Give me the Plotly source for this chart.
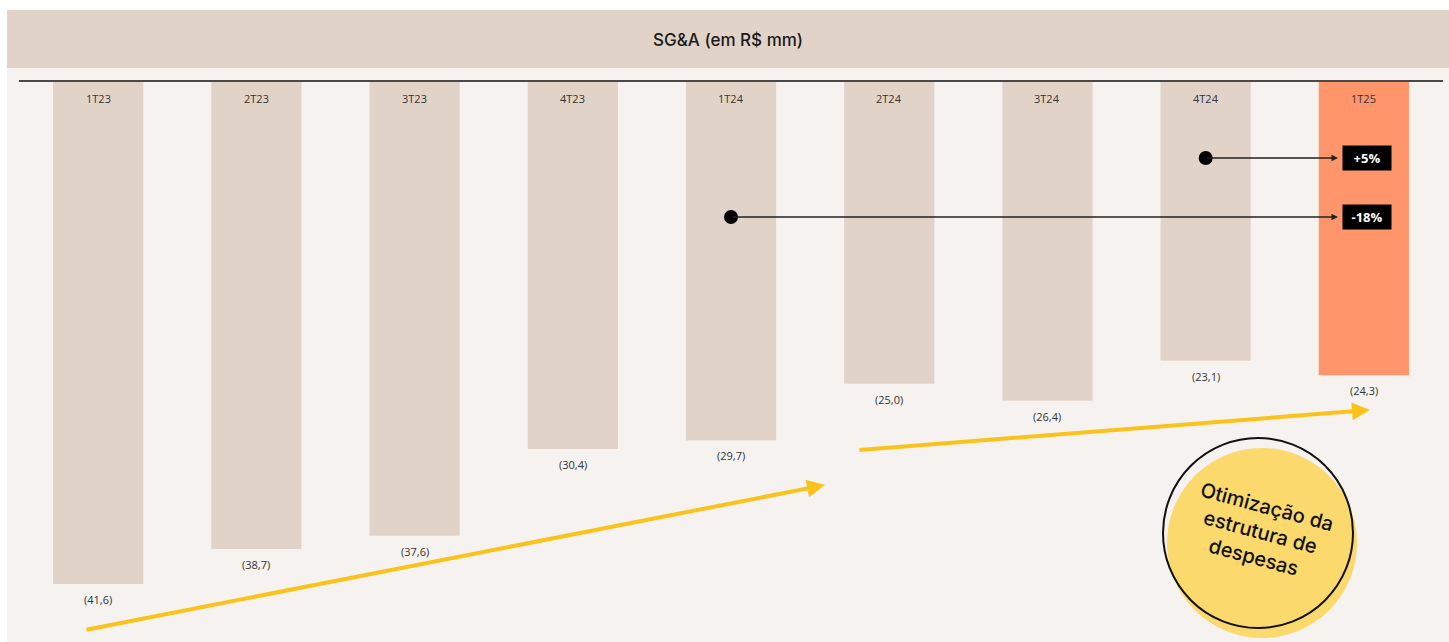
import plotly.graph_objects as go

categories = ["1T23", "2T23", "3T23", "4T23", "1T24", "2T24", "3T24", "4T24", "1T25"]
values = [41.6, 38.7, 37.6, 30.4, 29.7, 25.0, 26.4, 23.1, 24.3]
value_labels = ["(41,6)", "(38,7)", "(37,6)", "(30,4)", "(29,7)", "(25,0)", "(26,4)", "(23,1)", "(24,3)"]
bar_colors = ["#E2D3C9"] * 8 + ["#FF956B"]
title_text = "SG&A (em R$ mm)"
comparisons = [("1T24", "-18%"), ("4T24", "+5%")]
badge_text = "Otimização da<br>estrutura de<br>despesas"

W, H = 1449, 642
L, R, T, B = 19, 6, 82, 0
PW, PH = W - L - R, H - T - B
YMAX = PH / 12.07
FONT = "Open Sans"
FONT2 = "Inter"


def px(x):
    return (x - L) / PW


def py(y):
    return 1 - (y - T) / PH


def ix(x):
    return (x - L) / (PW / len(categories)) - 0.5


def vy(y):
    return (y - T) / (PH / YMAX)


fig = go.Figure()
fig.add_trace(go.Bar(
    x=categories, y=values, marker_color=bar_colors, marker_line_width=0,
    width=0.57, hoverinfo="skip", showlegend=False,
))

# comparison dots
dot_y = {"1T24": vy(217), "4T24": vy(158)}
fig.add_trace(go.Scatter(
    x=[c for c, _ in comparisons], y=[dot_y[c] for c, _ in comparisons],
    mode="markers", marker=dict(color="black", size=14), showlegend=False, hoverinfo="skip",
))

annotations = []
for c, v, lbl in zip(categories, values, value_labels):
    annotations.append(dict(x=c, y=v, text=lbl, showarrow=False, yanchor="top", yshift=-6,
                            font=dict(family=FONT, size=11, color="#333333")))
    annotations.append(dict(x=c, y=0, text=c, showarrow=False, yanchor="top", yshift=-7,
                            font=dict(family=FONT, size=11, color="#333333")))

for c, pct in comparisons:
    yv = dot_y[c]
    annotations.append(dict(x=ix(1338), y=yv, ax=categories.index(c), ay=yv, axref="x", ayref="y",
                            xref="x", yref="y", text="", showarrow=True, arrowhead=2, arrowsize=1,
                            arrowwidth=1.3, arrowcolor="#222222"))
    annotations.append(dict(x=ix(1342), y=yv, xanchor="left", yanchor="middle", text="<b>" + pct + "</b>",
                            showarrow=False, bgcolor="black", borderpad=3, width=42,
                            font=dict(family=FONT, size=13, color="white")))

# yellow trend arrows
for (x0, y0, x1, y1) in [(85, 630, 825, 485), (858, 450, 1370, 410)]:
    annotations.append(dict(x=ix(x1), y=vy(y1), ax=ix(x0), ay=vy(y0), axref="x", ayref="y",
                            xref="x", yref="y", text="", showarrow=True, arrowhead=2, arrowsize=0.9,
                            arrowwidth=4, arrowcolor="#F9C31B"))

annotations.append(dict(xref="paper", yref="paper", x=px(728), y=py(40), xanchor="center", yanchor="middle",
                        text=title_text, showarrow=False,
                        font=dict(family=FONT2, size=17, color="#1a1a1a", weight=500)))
annotations.append(dict(xref="paper", yref="paper", x=px(1260), y=py(532), xanchor="center", yanchor="middle",
                        text=badge_text, showarrow=False, textangle=15,
                        font=dict(family=FONT2, size=20, color="#111111", weight=500)))

shapes = [
    dict(type="rect", xref="paper", yref="paper", x0=px(7), x1=px(W), y0=py(H), y1=py(68),
         fillcolor="#F5F2EF", line_width=0, layer="below"),
    dict(type="rect", xref="paper", yref="paper", x0=px(7), x1=px(W), y0=py(68), y1=py(10),
         fillcolor="#E2D3C9", line_width=0, layer="below"),
    dict(type="line", xref="paper", yref="paper", x0=0, x1=1, y0=py(81), y1=py(81),
         line=dict(color="#111111", width=1.5)),
    dict(type="circle", xref="paper", yref="paper", x0=px(1167), x1=px(1357), y0=py(638), y1=py(448),
         fillcolor="#FCD96C", line_width=0, layer="above"),
    dict(type="circle", xref="paper", yref="paper", x0=px(1163), x1=px(1353), y0=py(628), y1=py(438),
         fillcolor="rgba(0,0,0,0)", line=dict(color="#111111", width=2)),
]

fig.update_layout(
    width=W, height=H, margin=dict(l=L, r=R, t=T, b=B),
    paper_bgcolor="white", plot_bgcolor="rgba(0,0,0,0)",
    xaxis=dict(visible=False, range=[-0.5, len(categories) - 0.5]),
    yaxis=dict(visible=False, range=[YMAX, 0]),
    annotations=annotations, shapes=shapes, bargap=0.43,
)

fig.write_html("out.html", config={"displayModeBar": False},
               post_script="document.body.style.margin='0px';document.body.style.overflow='hidden';")
